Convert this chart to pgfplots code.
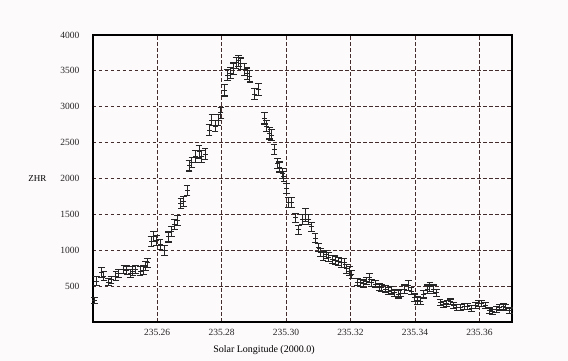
\documentclass[border=0pt]{standalone}
\usepackage{pgfplots}
\pgfplotsset{compat=1.18}
\usepackage{pgfplotstable}
\usepackage{fontspec}
\setmainfont{Liberation Serif}
\definecolor{bg}{RGB}{253,250,252}
\definecolor{gridc}{RGB}{70,45,45}
% x = solar longitude - 235 (offset kept for numerical precision)
\pgfplotstableread{
x zhr err
0.2405 300 40
0.2412 570 60
0.2427 695 70
0.2435 640 60
0.2449 555 50
0.2457 590 50
0.2472 640 60
0.2480 675 60
0.2497 730 60
0.2506 720 60
0.2517 675 60
0.2525 710 60
0.2533 730 60
0.2547 710 60
0.2558 720 60
0.2564 780 60
0.2570 825 60
0.2581 1125 70
0.2589 1195 70
0.2598 1140 70
0.2609 1080 70
0.2622 1000 70
0.2635 1185 70
0.2645 1265 70
0.2654 1355 70
0.2663 1410 70
0.2674 1650 70
0.2682 1680 70
0.2693 1835 70
0.2699 2175 70
0.2708 2220 70
0.2719 2305 80
0.2730 2375 90
0.2738 2305 80
0.2749 2340 80
0.2761 2675 80
0.2770 2815 80
0.2780 2730 80
0.2789 2815 80
0.2798 2915 80
0.2809 3230 80
0.2819 3440 80
0.2828 3470 80
0.2837 3530 80
0.2845 3610 80
0.2853 3640 80
0.2860 3600 80
0.2870 3520 80
0.2879 3460 80
0.2888 3425 80
0.2903 3175 80
0.2915 3240 80
0.2933 2840 80
0.2940 2730 80
0.2948 2630 80
0.2955 2605 80
0.2963 2400 70
0.2974 2205 70
0.2980 2160 70
0.2989 2075 70
0.2993 2030 70
0.3002 1865 70
0.3008 1665 70
0.3017 1665 70
0.3030 1450 60
0.3039 1285 60
0.3051 1425 70
0.3061 1495 90
0.3070 1425 70
0.3079 1325 60
0.3090 1170 60
0.3100 1040 60
0.3106 970 60
0.3115 915 60
0.3124 940 60
0.3131 905 60
0.3143 870 60
0.3152 860 60
0.3162 845 60
0.3171 825 60
0.3180 825 60
0.3188 740 60
0.3196 710 60
0.3204 660 60
0.3221 555 50
0.3230 545 50
0.3240 535 50
0.3249 570 50
0.3258 615 60
0.3266 545 50
0.3278 525 50
0.3289 490 50
0.3297 475 50
0.3308 455 50
0.3317 430 50
0.3326 440 50
0.3337 405 50
0.3348 385 50
0.3356 400 50
0.3367 455 60
0.3379 510 70
0.3388 430 50
0.3398 340 50
0.3407 300 50
0.3418 290 50
0.3427 385 50
0.3438 455 60
0.3446 490 60
0.3457 455 60
0.3466 405 50
0.3478 270 40
0.3488 245 40
0.3499 260 40
0.3510 280 40
0.3519 230 40
0.3530 200 40
0.3542 200 40
0.3553 215 40
0.3564 215 40
0.3575 185 40
0.3587 230 40
0.3596 260 40
0.3607 255 40
0.3618 230 40
0.3631 155 40
0.3640 140 40
0.3652 175 40
0.3663 200 40
0.3674 220 40
0.3682 200 40
0.3693 155 40
}\datatable
\begin{document}
\begin{tikzpicture}[x=1pt,y=1pt]
\path[use as bounding box, fill=bg] (0,0) rectangle (568,361);
\begin{axis}[
  at={(93pt,39pt)}, anchor=south west,
  scale only axis, width=419pt, height=287pt,
  xmin=0.2401, xmax=0.3701, ymin=0, ymax=4000,
  xtick={0.26,0.28,0.30,0.32,0.34,0.36},
  xticklabels={235.26,235.28,235.30,235.32,235.34,235.36},
  ytick={500,1000,1500,2000,2500,3000,3500,4000},
  yticklabels={500,1000,1500,2000,2500,3000,3500,4000},
  major tick length=0pt,
  grid=major,
  major grid style={gridc, line width=0.8pt, dash pattern=on 3.5pt off 2.5pt},
  axis line style={black, line width=1.3pt},
  tick label style={font=\fontsize{9.5}{11}\selectfont, text=black!85},
  xticklabel style={yshift=-4pt},
  yticklabel style={xshift=-10pt},
  xlabel={Solar Longitude (2000.0)},
  ylabel={ZHR},
  every axis x label/.style={at={(axis description cs:0.408,0)}, anchor=center, yshift=-28pt, font=\fontsize{10}{12}\selectfont},
  every axis y label/.style={at={(axis description cs:0,0.5)}, anchor=east, xshift=-43pt, font=\fontsize{9}{11}\selectfont},
  clip=false,
]
\addplot[black!85, only marks, mark=-, mark size=2.5pt, mark options={line width=1pt},
  error bars/.cd, y dir=both, y explicit,
  error bar style={line width=1pt, black!85},
  error mark=|,
  error mark options={black!85, mark size=3.3pt, line width=1.1pt}]
  table[x=x, y=zhr, y error=err] {\datatable};
\end{axis}
\end{tikzpicture}
\end{document}
